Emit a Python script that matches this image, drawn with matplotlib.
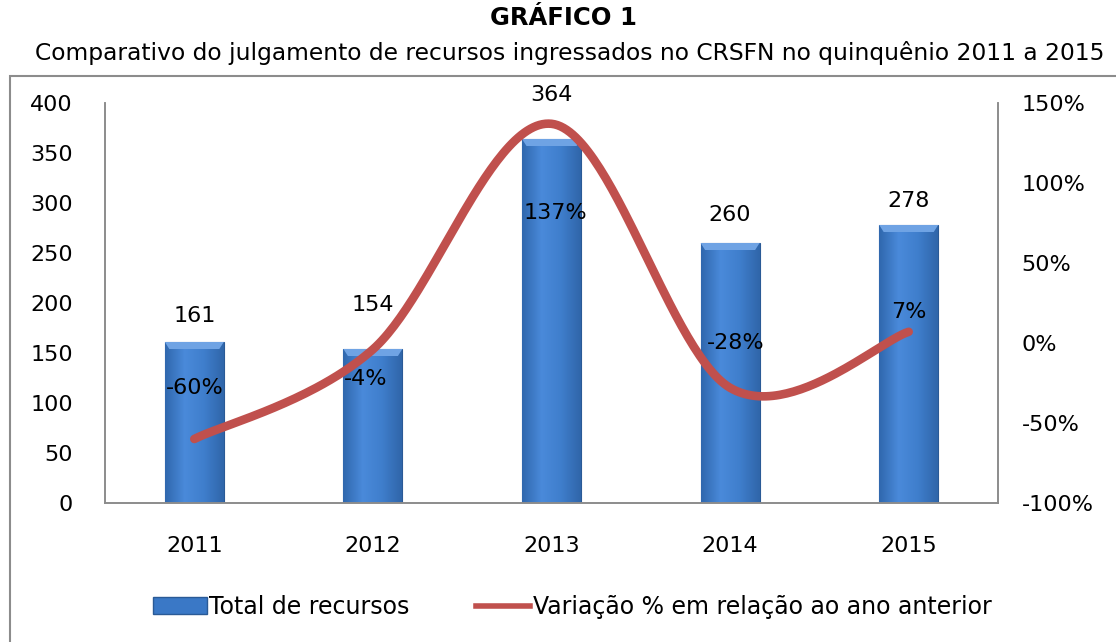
import numpy as np
import matplotlib.pyplot as plt
from matplotlib.patches import Rectangle, Polygon
from matplotlib.lines import Line2D
from matplotlib.colors import LinearSegmentedColormap

anos = ['2011', '2012', '2013', '2014', '2015']
total_recursos = [161, 154, 364, 260, 278]
variacao = [-60, -4, 137, -28, 7]
variacao_rotulos = ['-60%', '-4%', '137%', '-28%', '7%']

# label offsets (points) as placed in the original
off_barras = [19, 32, 32, 20, 17]
off_linha = [(0, 37), (-5, -21), (3, -64), (4, 32), (0, 14)]

plt.rcParams['font.family'] = ['DejaVu Sans']
fs = 16

fig = plt.figure(figsize=(11.16, 6.42), dpi=100)
ax = fig.add_axes([105/1116, 1-503/642, (998-105)/1116, 400/642])
ax2 = ax.twinx()

x = np.arange(len(anos))
w = 0.33
bars = ax.bar(x, total_recursos, w, color='#3A78C6', edgecolor='#2A5A96', linewidth=0.8, zorder=2)

cmap = LinearSegmentedColormap.from_list('b', ['#3068AE', '#4A8ADA', '#3F7ECC', '#3066AA'])
grad = np.linspace(0, 1, 64).reshape(1, -1)
for b in bars:
    bx, by = b.get_x(), b.get_y()
    bw, bh = b.get_width(), b.get_height()
    im = ax.imshow(grad, cmap=cmap, aspect='auto', extent=[bx, bx+bw, by, by+bh], zorder=2.1)
    im.set_clip_path(b)
    # bevel on top
    d = 0.025
    ax.add_patch(Polygon([(bx, by+bh), (bx+bw, by+bh), (bx+bw-d, by+bh-7), (bx+d, by+bh-7)],
                         closed=True, color='#6FA3E4', lw=0, zorder=2.2))

for i, v in enumerate(total_recursos):
    ax.annotate(str(v), (x[i], v), xytext=(0, off_barras[i]), textcoords='offset points',
                ha='center', va='center', fontsize=fs)

ax.set_xlim(-0.5, 4.5)
ax.set_ylim(0, 400)
ax.set_yticks(range(0, 401, 50))
ax.set_xticks(x)
ax.set_xticklabels(anos)
ax.tick_params(axis='y', length=0, pad=23, labelsize=fs)
ax.tick_params(axis='x', length=0, pad=24, labelsize=fs)

# smoothed line like Excel (bezier through points)
def suave(xs, ys, n=60):
    px, py = [], []
    m = len(xs)
    for i in range(m-1):
        x0, y0 = xs[max(i-1, 0)], ys[max(i-1, 0)]
        x1, y1 = xs[i], ys[i]
        x2, y2 = xs[i+1], ys[i+1]
        x3, y3 = xs[min(i+2, m-1)], ys[min(i+2, m-1)]
        c1x, c1y = x1 + (x2-x0)/6, y1 + (y2-y0)/6
        c2x, c2y = x2 - (x3-x1)/6, y2 - (y3-y1)/6
        t = np.linspace(0, 1, n)
        px.extend((1-t)**3*x1 + 3*(1-t)**2*t*c1x + 3*(1-t)*t**2*c2x + t**3*x2)
        py.extend((1-t)**3*y1 + 3*(1-t)**2*t*c1y + 3*(1-t)*t**2*c2y + t**3*y2)
    return px, py

sx, sy = suave(list(x), variacao)
ax2.plot(sx, sy, color='#C0504D', lw=6.2, solid_capstyle='round', zorder=3)
for i, v in enumerate(variacao):
    ax2.annotate(variacao_rotulos[i], (x[i], v), xytext=off_linha[i], textcoords='offset points',
                 ha='center', va='center', fontsize=fs)
ax2.set_ylim(-100, 150)
ax2.set_yticks(range(-100, 151, 50))
ax2.set_yticklabels([f'{t}%' for t in range(-100, 151, 50)])
ax2.tick_params(axis='y', length=0, pad=17, labelsize=fs)

for a in (ax, ax2):
    a.spines['top'].set_visible(False)
    for s in ('left', 'right', 'bottom'):
        a.spines[s].set_color('#8C8C8C')
        a.spines[s].set_linewidth(1.2)
ax.set_zorder(ax2.get_zorder() - 1)
ax2.patch.set_visible(False)

fig.add_artist(Rectangle((10/1116, -0.1), 1.2, 1 - 76/642 + 0.1, transform=fig.transFigure,
                         fill=False, edgecolor='#8C8C8C', lw=1.5))

fig.text(563/1116, 1-18/642, 'GRÁFICO 1', ha='center', va='center', fontsize=17.5,
         fontweight='bold', family='DejaVu Sans Condensed')
fig.text(570/1116, 1-53/642, 'Comparativo do julgamento de recursos ingressados no CRSFN no quinquênio 2011 a 2015',
         ha='center', va='center', fontsize=16.8, family='DejaVu Sans Condensed')

h1 = Rectangle((0, 0), 1, 1, facecolor='#3A78C6', edgecolor='#2A5A96')
h2 = Line2D([], [], color='#C0504D', lw=4)
fig.legend([h1, h2], ['Total de recursos', 'Variação % em relação ao ano anterior'],
           loc='center', bbox_to_anchor=(572/1116, 1-607/642), ncol=2, frameon=False,
           fontsize=17, handlelength=2.3, handletextpad=0.1, columnspacing=2.8)

fig.savefig('out.png', dpi=100)
